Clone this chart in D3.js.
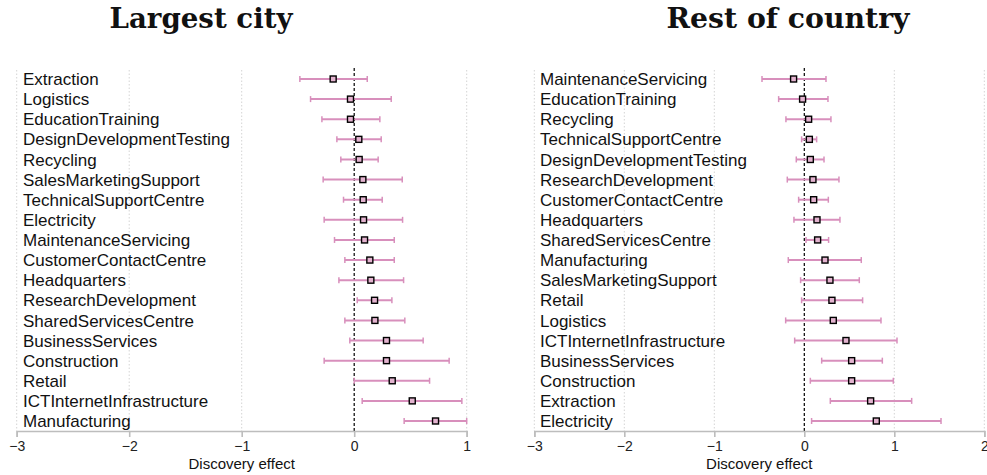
<!DOCTYPE html>
<html><head><meta charset="utf-8">
<script src="https://cdn.jsdelivr.net/npm/d3@7"></script>
<style>body{margin:0;background:#fff}svg{display:block}</style>
</head><body>
<svg id="c" width="987" height="475"></svg>
<script>
// Largest city panel
const cityCats = ["Extraction","Logistics","EducationTraining","DesignDevelopmentTesting","Recycling","SalesMarketingSupport","TechnicalSupportCentre","Electricity","MaintenanceServicing","CustomerContactCentre","Headquarters","ResearchDevelopment","SharedServicesCentre","BusinessServices","Construction","Retail","ICTInternetInfrastructure","Manufacturing"];
const cityEst = [-0.187,-0.033,-0.033,0.041,0.044,0.077,0.080,0.083,0.092,0.139,0.148,0.181,0.184,0.287,0.287,0.338,0.516,0.723];
const cityLo  = [-0.483,-0.388,-0.287,-0.154,-0.119,-0.276,-0.095,-0.267,-0.175,-0.083,-0.136,0.027,-0.083,-0.039,-0.267,0.000,0.071,0.444];
const cityHi  = [0.116,0.329,0.228,0.240,0.213,0.427,0.249,0.430,0.356,0.356,0.439,0.335,0.450,0.613,0.844,0.670,0.957,1.000];
const cityTicks = [-3,-2,-1,0,1];

// Rest of country panel
const restCats = ["MaintenanceServicing","EducationTraining","Recycling","TechnicalSupportCentre","DesignDevelopmentTesting","ResearchDevelopment","CustomerContactCentre","Headquarters","SharedServicesCentre","Manufacturing","SalesMarketingSupport","Retail","Logistics","ICTInternetInfrastructure","BusinessServices","Construction","Extraction","Electricity"];
const restEst = [-0.119,-0.019,0.048,0.056,0.067,0.096,0.104,0.141,0.148,0.230,0.285,0.307,0.322,0.463,0.526,0.526,0.737,0.800];
const restLo  = [-0.470,-0.285,-0.204,-0.030,-0.089,-0.189,-0.063,-0.115,0.019,-0.178,-0.041,-0.030,-0.207,-0.107,0.193,0.067,0.289,0.081];
const restHi  = [0.241,0.263,0.296,0.137,0.219,0.385,0.267,0.396,0.270,0.633,0.611,0.648,0.852,1.030,0.867,0.989,1.193,1.519];
const restTicks = [-3,-2,-1,0,1,2];

const titles = ["Largest city","Rest of country"];
const axisTitle = "Discovery effect";

const svg = d3.select("#c");
const pink = "#d88fbc";

function panel(cfg){
  const g = svg.append("g");
  const x = d3.scaleLinear().domain(cfg.domain).range(cfg.xr);
  const y = d3.scalePoint().domain(cfg.cats).range([79,421]);
  const top = 70, axY = 431;
  // grid
  g.selectAll(".grid").data(cfg.ticks.filter(t=>t!==0)).enter().append("line")
    .attr("x1",d=>x(d)).attr("x2",d=>x(d)).attr("y1",top).attr("y2",axY)
    .attr("stroke","#d4d4d4").attr("stroke-width",1).attr("stroke-dasharray","1.5,2");
  // zero line
  g.append("line").attr("x1",x(0)).attr("x2",x(0)).attr("y1",68).attr("y2",axY)
    .attr("stroke","#000").attr("stroke-width",1.2).attr("stroke-dasharray","3,2");
  // labels
  g.selectAll(".lab").data(cfg.cats).enter().append("text")
    .attr("x",cfg.labX).attr("y",d=>y(d)).attr("dy","0.36em")
    .attr("font-family","Liberation Sans, Arial, sans-serif").attr("font-size",17)
    .attr("fill","#111").text(d=>d);
  // axis
  const ax = g.append("g").attr("transform",`translate(0,${axY})`)
    .call(d3.axisBottom(x).tickValues(cfg.ticks).tickSize(6).tickPadding(4).tickFormat(d=>d<0?"\u2212"+Math.abs(d):d));
  ax.select(".domain").attr("stroke","#bdbdbd").attr("stroke-width",1.6);
  ax.selectAll(".tick line").attr("stroke","#bdbdbd").attr("stroke-width",1.6);
  ax.selectAll(".tick text").attr("font-family","Liberation Sans, Arial, sans-serif").attr("font-size",14).attr("fill","#222");
  // axis title
  g.append("text").attr("x",(cfg.xr[0]+cfg.xr[1])/2).attr("y",469).attr("text-anchor","middle")
    .attr("font-family","Liberation Sans, Arial, sans-serif").attr("font-size",15).attr("fill","#111").text(axisTitle);
  // error bars
  const rows = cfg.cats.map((c,i)=>({c,e:cfg.est[i],lo:cfg.lo[i],hi:cfg.hi[i]}));
  const eb = g.selectAll(".eb").data(rows).enter().append("g");
  eb.append("line").attr("x1",d=>x(d.lo)).attr("x2",d=>x(d.hi)).attr("y1",d=>y(d.c)).attr("y2",d=>y(d.c))
    .attr("stroke",pink).attr("stroke-width",2);
  eb.append("line").attr("x1",d=>x(d.lo)).attr("x2",d=>x(d.lo)).attr("y1",d=>y(d.c)-3).attr("y2",d=>y(d.c)+3)
    .attr("stroke",pink).attr("stroke-width",1.5);
  eb.append("line").attr("x1",d=>x(d.hi)).attr("x2",d=>x(d.hi)).attr("y1",d=>y(d.c)-3).attr("y2",d=>y(d.c)+3)
    .attr("stroke",pink).attr("stroke-width",1.5);
  eb.append("rect").attr("x",d=>x(d.e)-3).attr("y",d=>y(d.c)-3).attr("width",6).attr("height",6)
    .attr("fill","#e3b3cf").attr("stroke","#000").attr("stroke-width",1.4);
  // title
  svg.append("text").attr("x",cfg.tX).attr("y",28).attr("text-anchor","middle")
    .attr("font-family","DejaVu Serif, serif").attr("font-weight","bold").attr("font-size",28)
    .attr("textLength",cfg.tW).attr("lengthAdjust","spacingAndGlyphs").attr("fill","#111").text(cfg.title);
}

panel({cats:cityCats,est:cityEst,lo:cityLo,hi:cityHi,ticks:cityTicks,domain:[-3,1],xr:[16.7,466.7],labX:23,title:titles[0],tX:201,tW:183});
panel({cats:restCats,est:restEst,lo:restLo,hi:restHi,ticks:restTicks,domain:[-3,2],xr:[534.3,984.3],labX:540,title:titles[1],tX:788,tW:243});
</script>
</body></html>
